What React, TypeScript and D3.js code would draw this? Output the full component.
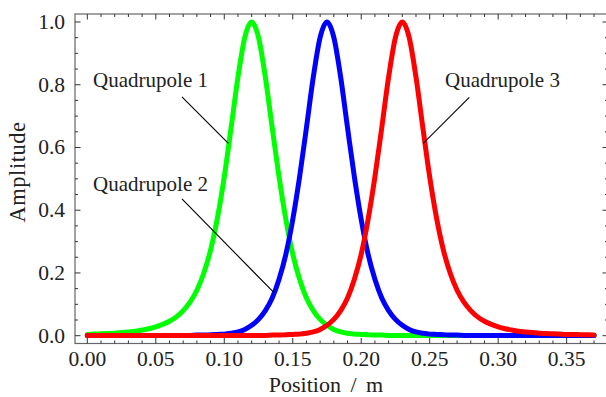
import React, { useEffect, useRef } from "react";
import * as d3 from "d3";

// sample positions along the beam line (m)
const positions = [
  0, 0.005, 0.01, 0.015, 0.02, 0.025, 0.03, 0.035, 0.04, 0.045,
  0.05, 0.055, 0.06, 0.065, 0.07, 0.075, 0.08, 0.085, 0.09, 0.095,
  0.1, 0.105, 0.11, 0.115, 0.12, 0.125, 0.13, 0.135, 0.14, 0.145,
  0.15, 0.155, 0.16, 0.165, 0.17, 0.175, 0.18, 0.185, 0.19, 0.195,
  0.2, 0.205, 0.21, 0.215, 0.22, 0.225, 0.23, 0.235, 0.24, 0.245,
  0.25, 0.255, 0.26, 0.265, 0.27, 0.275, 0.28, 0.285, 0.29, 0.295,
  0.3, 0.305, 0.31, 0.315, 0.32, 0.325, 0.33, 0.335, 0.34, 0.345,
  0.35, 0.355, 0.36, 0.365, 0.37,
];

const quad1 = [
  0.004, 0.005, 0.006, 0.007, 0.008, 0.01, 0.012, 0.014, 0.018, 0.022,
  0.028, 0.036, 0.046, 0.06, 0.08, 0.107, 0.145, 0.199, 0.273, 0.375,
  0.506, 0.663, 0.824, 0.951, 1.0, 0.951, 0.824, 0.663, 0.506, 0.37,
  0.26, 0.18, 0.12, 0.08, 0.052, 0.033, 0.02, 0.012, 0.008, 0.005,
  0.004, 0.003, 0.002, 0.002, 0.001, 0.001, 0.001, 0.001, 0.001, 0.001,
  0.001, 0.001, 0.001, 0.001, 0.001, 0.001, 0.001, 0.001, 0.001, 0.001,
  0.001, 0.001, 0.001, 0.001, 0.001, 0.001, 0.001, 0.001, 0.001, 0.001,
  0.001, 0.001, 0.001, 0.001, 0.001,
];

const quad2 = [
  0.001, 0.001, 0.001, 0.001, 0.001, 0.001, 0.001, 0.001, 0.001, 0.001,
  0.001, 0.001, 0.001, 0.001, 0.001, 0.001, 0.002, 0.002, 0.003, 0.004,
  0.005, 0.008, 0.012, 0.02, 0.033, 0.052, 0.08, 0.12, 0.18, 0.26,
  0.37, 0.506, 0.663, 0.824, 0.951, 1.0, 0.951, 0.824, 0.663, 0.506,
  0.37, 0.26, 0.18, 0.12, 0.08, 0.052, 0.033, 0.02, 0.012, 0.008,
  0.005, 0.004, 0.003, 0.002, 0.002, 0.001, 0.001, 0.001, 0.001, 0.001,
  0.001, 0.001, 0.001, 0.001, 0.001, 0.001, 0.001, 0.001, 0.001, 0.001,
  0.001, 0.001, 0.001, 0.001, 0.001,
];

const quad3 = [
  0.001, 0.001, 0.001, 0.001, 0.001, 0.001, 0.001, 0.001, 0.001, 0.001,
  0.001, 0.001, 0.001, 0.001, 0.001, 0.001, 0.001, 0.001, 0.001, 0.001,
  0.001, 0.001, 0.001, 0.001, 0.001, 0.001, 0.001, 0.002, 0.002, 0.003,
  0.004, 0.005, 0.008, 0.012, 0.02, 0.033, 0.052, 0.08, 0.12, 0.18,
  0.26, 0.37, 0.506, 0.663, 0.824, 0.951, 1.0, 0.951, 0.824, 0.663,
  0.506, 0.375, 0.273, 0.199, 0.145, 0.107, 0.08, 0.06, 0.046, 0.036,
  0.028, 0.022, 0.018, 0.014, 0.012, 0.01, 0.008, 0.007, 0.006, 0.005,
  0.004, 0.004, 0.003, 0.003, 0.002,
];

const seriesColors = ["#00ff00", "#0000ff", "#ff0000"];

const xTicks = [0, 0.05, 0.1, 0.15, 0.2, 0.25, 0.3, 0.35];
const yTicks = [0, 0.2, 0.4, 0.6, 0.8, 1.0];

// callouts: label anchor and leader line, in data units
const calloutLabels = ["Quadrupole 1", "Quadrupole 2", "Quadrupole 3"];
const calloutText = [[0.0042, 0.793], [0.0042, 0.461], [0.2612, 0.792]];
const calloutLines = [
  [0.0691, 0.761, 0.103, 0.613],
  [0.0691, 0.436, 0.1363, 0.137],
  [0.2789, 0.76, 0.2453, 0.613],
];

const W = 606;
const H = 397;
const FONT = "'Liberation Serif', 'Times New Roman', serif";

function App() {
  const ref = useRef<SVGSVGElement>(null);

  useEffect(() => {
    const svg = d3.select(ref.current);
    svg.selectAll("*").remove();

    const left = 75, right = 608, top = 14, bottom = 343.5;
    const x = d3.scaleLinear().domain([-0.009, 0.3802]).range([left, right]);
    const y = d3.scaleLinear().domain([-0.0249, 1.0255]).range([bottom, top]);

    svg.append("rect").attr("width", W).attr("height", H).attr("fill", "#fff");

    // curves
    const line = d3
      .line<number>()
      .x((_, i) => x(positions[i]))
      .y((d) => y(d))
      .curve(d3.curveMonotoneX);

    [quad1, quad2, quad3].forEach((s, k) => {
      svg
        .append("path")
        .attr("d", line(s))
        .attr("fill", "none")
        .attr("stroke", seriesColors[k])
        .attr("stroke-width", 5)
        .attr("stroke-linecap", "round")
        .attr("stroke-linejoin", "round");
    });

    // frame
    svg
      .append("rect")
      .attr("x", left)
      .attr("y", top)
      .attr("width", right - left)
      .attr("height", bottom - top)
      .attr("fill", "none")
      .attr("stroke", "#666")
      .attr("stroke-width", 1.2);

    const tickColor = "#333";
    const xMinor = d3.range(0, 0.3801, 0.01);
    const yMinor = d3.range(0, 1.001, 0.05);
    xMinor.forEach((v) => {
      const major = xTicks.some((t) => Math.abs(t - v) < 1e-6);
      const len = major ? 5.5 : 3;
      [
        [bottom, bottom - len],
        [top, top + len],
      ].forEach(([a, b]) => {
        svg
          .append("line")
          .attr("x1", x(v))
          .attr("x2", x(v))
          .attr("y1", a)
          .attr("y2", b)
          .attr("stroke", tickColor)
          .attr("stroke-width", 1);
      });
    });
    yMinor.forEach((v) => {
      const major = yTicks.some((t) => Math.abs(t - v) < 1e-6);
      const len = major ? 5.5 : 3;
      [
        [left, left + len],
        [right, right - len],
      ].forEach(([a, b]) => {
        svg
          .append("line")
          .attr("y1", y(v))
          .attr("y2", y(v))
          .attr("x1", a)
          .attr("x2", b)
          .attr("stroke", tickColor)
          .attr("stroke-width", 1);
      });
    });

    // tick labels
    svg
      .selectAll(".xl")
      .data(xTicks)
      .enter()
      .append("text")
      .attr("x", (d) => x(d))
      .attr("y", 366)
      .attr("text-anchor", "middle")
      .attr("font-family", FONT)
      .attr("font-size", 21.5)
      .attr("fill", "#222")
      .text((d) => d3.format(".2f")(d));

    svg
      .selectAll(".yl")
      .data(yTicks)
      .enter()
      .append("text")
      .attr("x", 65)
      .attr("y", (d) => y(d) + 7)
      .attr("text-anchor", "end")
      .attr("font-family", FONT)
      .attr("font-size", 21.5)
      .attr("fill", "#222")
      .text((d) => d3.format(".1f")(d));

    // axis titles
    svg
      .append("text")
      .attr("x", 326)
      .attr("y", 392)
      .attr("text-anchor", "middle")
      .attr("font-family", FONT)
      .attr("font-size", 22)
      .attr("word-spacing", 4)
      .attr("fill", "#222")
      .text("Position / m");

    svg
      .append("text")
      .attr("transform", "translate(25,172) rotate(-90)")
      .attr("text-anchor", "middle")
      .attr("font-family", FONT)
      .attr("font-size", 22.5)
      .attr("letter-spacing", 0.5)
      .attr("fill", "#222")
      .text("Amplitude");

    // callouts
    calloutLines.forEach(([x1, y1, x2, y2]) => {
      svg
        .append("line")
        .attr("x1", x(x1))
        .attr("y1", y(y1))
        .attr("x2", x(x2))
        .attr("y2", y(y2))
        .attr("stroke", "#000")
        .attr("stroke-width", 1.1);
    });
    calloutLabels.forEach((t, i) => {
      svg
        .append("text")
        .attr("x", x(calloutText[i][0]))
        .attr("y", y(calloutText[i][1]))
        .attr("font-family", FONT)
        .attr("font-size", 21)
        .attr("fill", "#222")
        .text(t);
    });
  }, []);

  return (
    <svg
      ref={ref}
      width={W}
      height={H}
      style={{ position: "absolute", left: 0, top: 0 }}
    ></svg>
  );
}

export default App;
